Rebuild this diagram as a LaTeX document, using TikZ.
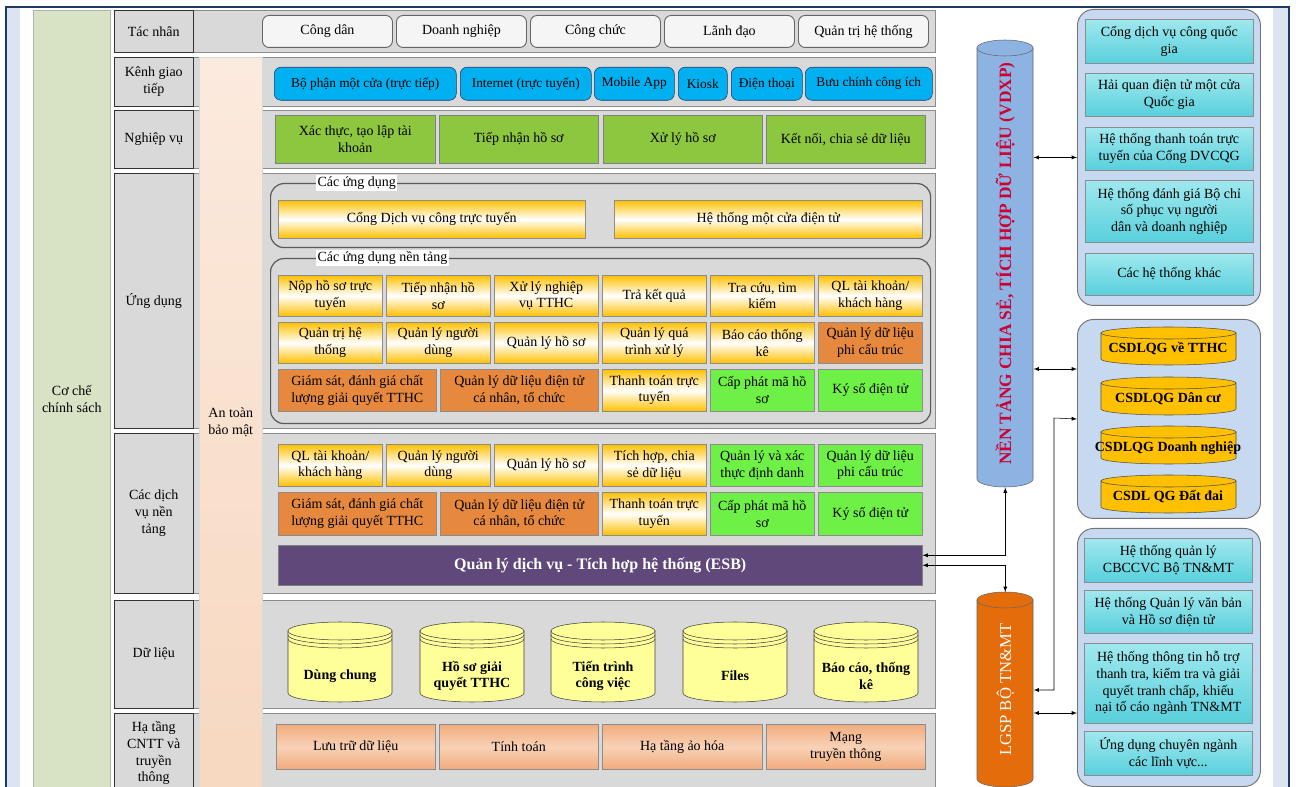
\documentclass[tikz,border=0pt]{standalone}
\usepackage{fontspec}
\setmainfont{Liberation Serif}

\newcommand{\donvi}{0.75pt}
\newcommand{\chu}{\fontsize{10.5}{12.5}\selectfont}

% hình trụ: trái, trên, phải, dưới, bán kính elip, màu nền, màu viền
\newcommand{\hinhtru}[7]{%
    \draw[fill=#6, draw=#7] (#1,#2+#5) -- (#1,#4-#5)
        arc[start angle=180, end angle=0, x radius={(#3-#1)/2}, y radius=#5]
        -- (#3,#2+#5) -- cycle;
    \draw[fill=#6, draw=#7] ({(#1+#3)/2},#2+#5) ellipse[x radius={(#3-#1)/2}, y radius=#5];
}
% vành phụ dưới nắp hình trụ
\newcommand{\vanh}[5]{%
    \draw[#5] (#1,#2) arc[start angle=180, end angle=0, x radius={(#3-#1)/2}, y radius=#4];
}

\definecolor{nenxanh}{RGB}{219,229,241}
\definecolor{vienxanh}{RGB}{31,56,100}
\definecolor{xamhang}{RGB}{217,217,217}
\definecolor{xanholiu}{RGB}{216,226,196}
\definecolor{daotren}{RGB}{251,234,222}
\definecolor{daoduoi}{RGB}{247,216,192}
\definecolor{xanhduong}{RGB}{0,176,240}
\definecolor{xanhla}{RGB}{141,198,63}
\definecolor{vang}{RGB}{255,192,0}
\definecolor{cam}{RGB}{230,137,62}
\definecolor{xanhnon}{RGB}{110,240,70}
\definecolor{tim}{RGB}{96,73,122}
\definecolor{vangnhat}{RGB}{255,255,153}
\definecolor{camnhat}{RGB}{242,172,124}
\definecolor{xanhnhom}{RGB}{198,217,241}
\definecolor{ngoctren}{RGB}{160,232,238}
\definecolor{ngocduoi}{RGB}{88,208,220}
\definecolor{xanhtru}{RGB}{141,179,226}
\definecolor{camdam}{RGB}{228,108,10}
\definecolor{dodam}{RGB}{204,0,51}

\tikzset{
    khoi/.style={anchor=north west, align=center, inner sep=1pt, font=\chu},
    kt/.style 2 args={minimum width=#1*\donvi, minimum height=#2*\donvi},
    hang/.style={khoi, fill=xamhang, draw=black!45},
    nhan/.style={khoi, fill=xamhang, draw=black!80},
    tacnhan/.style={khoi, fill=black!4, draw=black!60, rounded corners=5pt, line width=0.7pt},
    kenh/.style={khoi, fill=xanhduong, draw=vienxanh, rounded corners=5pt, font=\fontsize{10}{12}\selectfont},
    nghiepvu/.style={khoi, fill=xanhla, draw=black!50},
    vangbox/.style={khoi, draw=black!45, top color=vang, bottom color=vang, middle color=white},
    cambox/.style={khoi, draw=black!45, fill=cam},
    xanhbox/.style={khoi, draw=black!45, fill=xanhnon},
    hatang/.style={khoi, draw=black!45, top color=camnhat, bottom color=camnhat, middle color=camnhat!55},
    vienud/.style={khoi, draw=black!65, rounded corners=10pt, line width=0.9pt},
    tieude/.style={anchor=west, fill=white, inner sep=1pt, font=\chu},
    nhom/.style={khoi, fill=xanhnhom, draw=black!55, rounded corners=12pt, line width=0.7pt},
    ngocbox/.style={khoi, draw=black!45, top color=ngoctren, bottom color=ngocduoi},
    chutru/.style={align=center, font=\chu\bfseries},
}

\begin{document}
\begin{tikzpicture}[x=\donvi, y=-\donvi, >=latex]
    \useasboundingbox (0,0) rectangle (1296,787);
    \clip (0,0) rectangle (1296,787);

    % Khung nền
    \fill[white] (0,0) rectangle (1296,787);
    \fill[nenxanh] (6,7) rectangle (1289,790);
    \fill[white] (20,8) rectangle (1273,790);
    \draw[vienxanh, line width=1.5pt] (6,790) -- (6,7) -- (1289,7) -- (1289,790);

    % Cột cơ chế chính sách
    \node[khoi, kt={77}{777}, fill=xanholiu, draw=black!30] (coche) at (33,10) {Cơ chế\\chính sách};

    % Các hàng
    \node[hang, kt={821}{42}] (hang1) at (114,10) {};
    \node[hang, kt={821}{49}] (hang2) at (114,57) {};
    \node[hang, kt={821}{58}] (hang3) at (114,110) {};
    \node[hang, kt={821}{255}] (hang4) at (114,173) {};
    \node[hang, kt={821}{160}] (hang5) at (114,433) {};
    \node[hang, kt={821}{108}] (hang6) at (114,600) {};
    \node[hang, kt={821}{80}] (hang7) at (114,713) {};

    % Nhãn các hàng
    \node[nhan, kt={79}{42}] (nhan1) at (114,10) {Tác nhân};
    \node[nhan, kt={79}{49}] (nhan2) at (114,57) {Kênh giao\\tiếp};
    \node[nhan, kt={79}{58}] (nhan3) at (114,110) {Nghiệp vụ};
    \node[nhan, kt={79}{255}] (nhan4) at (114,173) {Ứng dụng};
    \node[nhan, kt={79}{160}] (nhan5) at (114,433) {Các dịch\\vụ nền\\tảng};
    \node[nhan, kt={79}{108}] (nhan6) at (114,600) {Dữ liệu};
    \node[nhan, kt={79}{80}] (nhan7) at (114,713) {Hạ tầng\\CNTT và\\truyền\\thông};

    % Cột an toàn bảo mật
    \node[khoi, kt={63}{730}, top color=daotren, bottom color=daoduoi, draw=black!15] (antoan) at (199,57) {An toàn\\bảo mật};

    % Tác nhân
    \node[tacnhan, kt={130}{32}] (tn1) at (262,15) {Công dân};
    \node[tacnhan, kt={130}{32}] (tn2) at (396,15) {Doanh nghiệp};
    \node[tacnhan, kt={130}{32}] (tn3) at (530,15) {Công chức};
    \node[tacnhan, kt={130}{32}] (tn4) at (664,15) {Lãnh đạo};
    \node[tacnhan, kt={130}{32}] (tn5) at (798,15) {Quản trị hệ thống};

    % Kênh giao tiếp
    \node[kenh, kt={182}{33}] (kn1) at (274,67) {Bộ phận một cửa (trực tiếp)};
    \node[kenh, kt={131}{33}] (kn2) at (460,67) {Internet (trực tuyến)};
    \node[kenh, kt={80}{33}] (kn3) at (594,67) {Mobile App};
    \node[kenh, kt={49}{33}] (kn4) at (678,67) {Kiosk};
    \node[kenh, kt={71}{33}] (kn5) at (731,67) {Điện thoại};
    \node[kenh, kt={127}{33}] (kn6) at (805,67) {Bưu chính công ích};

    % Nghiệp vụ
    \node[nghiepvu, kt={160}{48}] (nv1) at (275,115) {Xác thực, tạo lập tài\\khoản};
    \node[nghiepvu, kt={159}{48}] (nv2) at (439,115) {Tiếp nhận hồ sơ};
    \node[nghiepvu, kt={159}{48}] (nv3) at (603,115) {Xử lý hồ sơ};
    \node[nghiepvu, kt={159}{48}] (nv4) at (766,115) {Kết nối, chia sẻ dữ liệu};

    % Các ứng dụng
    \node[vienud, kt={660}{64}] (nhomud) at (270,183) {};
    \node[tieude] (tdud) at (316,183) {Các ứng dụng};
    \node[vangbox, kt={307}{38}] (ud1) at (278,200) {Cổng Dịch vụ công trực tuyến};
    \node[vangbox, kt={308}{38}] (ud2) at (614,200) {Hệ thống một cửa điện tử};

    % Các ứng dụng nền tảng
    \node[vienud, kt={660}{165}] (nhomnt) at (270,258) {};
    \node[tieude] (tdnt) at (316,258) {Các ứng dụng nền tảng};
    \node[vangbox, kt={104}{41}] (nt11) at (278,275) {Nộp hồ sơ trực\\tuyến};
    \node[vangbox, kt={104}{41}] (nt12) at (386,275) {Tiếp nhận hồ\\sơ};
    \node[vangbox, kt={104}{41}] (nt13) at (494,275) {Xử lý nghiệp\\vụ TTHC};
    \node[vangbox, kt={104}{41}] (nt14) at (602,275) {Trả kết quả};
    \node[vangbox, kt={104}{41}] (nt15) at (710,275) {Tra cứu, tìm\\kiếm};
    \node[vangbox, kt={104}{41}] (nt16) at (818,275) {QL tài khoản/\\khách hàng};
    \node[vangbox, kt={104}{41}] (nt21) at (278,322) {Quản trị hệ\\thống};
    \node[vangbox, kt={104}{41}] (nt22) at (386,322) {Quản lý người\\dùng};
    \node[vangbox, kt={104}{41}] (nt23) at (494,322) {Quản lý hồ sơ};
    \node[vangbox, kt={104}{41}] (nt24) at (602,322) {Quản lý quá\\trình xử lý};
    \node[vangbox, kt={104}{41}] (nt25) at (710,322) {Báo cáo thống\\kê};
    \node[cambox, kt={104}{41}] (nt26) at (818,322) {Quản lý dữ liệu\\phi cấu trúc};
    \node[cambox, kt={158}{42}] (nt31) at (278,369) {Giám sát, đánh giá chất\\lượng giải quyết TTHC};
    \node[cambox, kt={158}{42}] (nt32) at (440,369) {Quản lý dữ liệu điện tử\\cá nhân, tổ chức};
    \node[vangbox, kt={104}{42}] (nt33) at (602,369) {Thanh toán trực\\tuyến};
    \node[xanhbox, kt={104}{42}] (nt34) at (710,369) {Cấp phát mã hồ\\sơ};
    \node[xanhbox, kt={104}{42}] (nt35) at (818,369) {Ký số điện tử};

    % Các dịch vụ nền tảng
    \node[vangbox, kt={104}{42}] (dv11) at (278,444) {QL tài khoản/\\khách hàng};
    \node[vangbox, kt={104}{42}] (dv12) at (386,444) {Quản lý người\\dùng};
    \node[vangbox, kt={104}{42}] (dv13) at (494,444) {Quản lý hồ sơ};
    \node[vangbox, kt={104}{42}] (dv14) at (602,444) {Tích hợp, chia\\sẻ dữ liệu};
    \node[xanhbox, kt={104}{42}] (dv15) at (710,444) {Quản lý và xác\\thực định danh};
    \node[xanhbox, kt={104}{42}] (dv16) at (818,444) {Quản lý dữ liệu\\phi cấu trúc};
    \node[cambox, kt={158}{43}] (dv21) at (278,492) {Giám sát, đánh giá chất\\lượng giải quyết TTHC};
    \node[cambox, kt={158}{43}] (dv22) at (440,492) {Quản lý dữ liệu điện tử\\cá nhân, tổ chức};
    \node[vangbox, kt={104}{43}] (dv23) at (602,492) {Thanh toán trực\\tuyến};
    \node[xanhbox, kt={104}{43}] (dv24) at (710,492) {Cấp phát mã hồ\\sơ};
    \node[xanhbox, kt={104}{43}] (dv25) at (818,492) {Ký số điện tử};
    \node[khoi, kt={644}{40}, fill=tim, draw=black!50, text=white, font=\fontsize{12}{14}\selectfont\bfseries] (esb) at (278,545) {Quản lý dịch vụ - Tích hợp hệ thống (ESB)};

    % Dữ liệu
    \hinhtru{288}{622}{392}{702}{9}{vangnhat}{black!75}
    \vanh{288}{635}{392}{9}{black!75}
    \vanh{288}{639}{392}{9}{black!75}
    \node[chutru] (dl1) at (340,676) {Dùng chung};
    \hinhtru{420}{622}{524}{702}{9}{vangnhat}{black!75}
    \vanh{420}{635}{524}{9}{black!75}
    \vanh{420}{639}{524}{9}{black!75}
    \node[chutru] (dl2) at (472,676) {Hồ sơ giải\\quyết TTHC};
    \hinhtru{551}{622}{655}{702}{9}{vangnhat}{black!75}
    \vanh{551}{635}{655}{9}{black!75}
    \vanh{551}{639}{655}{9}{black!75}
    \node[chutru] (dl3) at (603,676) {Tiến trình\\công việc};
    \hinhtru{683}{622}{787}{702}{9}{vangnhat}{black!75}
    \vanh{683}{635}{787}{9}{black!75}
    \vanh{683}{639}{787}{9}{black!75}
    \node[chutru] (dl4) at (735,676) {Files};
    \hinhtru{814}{622}{918}{702}{9}{vangnhat}{black!75}
    \vanh{814}{635}{918}{9}{black!75}
    \vanh{814}{639}{918}{9}{black!75}
    \node[chutru] (dl5) at (866,676) {Báo cáo, thống\\kê};

    % Hạ tầng CNTT
    \node[hatang, kt={159}{45}] (ht1) at (276,724) {Lưu trữ dữ liệu};
    \node[hatang, kt={159}{45}] (ht2) at (439,724) {Tính toán};
    \node[hatang, kt={160}{45}] (ht3) at (602,724) {Hạ tầng ảo hóa};
    \node[hatang, kt={159}{45}] (ht4) at (766,724) {Mạng\\truyền thông};

    % Nền tảng VDXP và LGSP
    \hinhtru{977}{40}{1033}{487}{8}{xanhtru}{black!60}
    \node[khoi, kt={56}{447}] (vdxp) at (977,40) {};
    \node[rotate=90, text=dodam, font=\fontsize{13}{15}\selectfont\bfseries] (vdxpchu) at (vdxp.center) {NỀN TẢNG CHIA SẺ, TÍCH HỢP DỮ LIỆU (VDXP)};
    \hinhtru{977}{592}{1033}{787}{8}{camdam}{black!60}
    \node[khoi, kt={56}{195}] (lgsp) at (977,592) {};
    \node[rotate=90, text=white, font=\fontsize{12.5}{15}\selectfont] (lgspchu) at (lgsp.center) {LGSP BỘ TN\&MT};

    % Hệ thống quốc gia
    \node[nhom, kt={183}{296}] (nhom1) at (1077,9) {};
    \node[ngocbox, kt={168}{44}] (qg1) at (1085,19) {Cổng dịch vụ công quốc\\gia};
    \node[ngocbox, kt={168}{43}] (qg2) at (1085,73) {Hải quan điện tử một cửa\\Quốc gia};
    \node[ngocbox, kt={168}{43}] (qg3) at (1085,127) {Hệ thống thanh toán trực\\tuyến của Cổng DVCQG};
    \node[ngocbox, kt={168}{62}] (qg4) at (1085,180) {Hệ thống đánh giá Bộ chỉ\\số phục vụ người\\dân và doanh nghiệp};
    \node[ngocbox, kt={168}{42}] (qg5) at (1085,253) {Các hệ thống khác};

    % Cơ sở dữ liệu quốc gia
    \node[nhom, kt={183}{199}] (nhom2) at (1077,319) {};
    \hinhtru{1101}{327}{1236}{365}{6}{vang}{black!70}
    \node[chutru] (csdl1) at (1168,349) {CSDLQG về TTHC};
    \hinhtru{1101}{377}{1236}{415}{6}{vang}{black!70}
    \node[chutru] (csdl2) at (1168,399) {CSDLQG Dân cư};
    \hinhtru{1101}{426}{1236}{464}{6}{vang}{black!70}
    \node[chutru] (csdl3) at (1168,448) {CSDLQG Doanh nghiệp};
    \hinhtru{1101}{475}{1236}{513}{6}{vang}{black!70}
    \node[chutru] (csdl4) at (1168,497) {CSDL QG Đất đai};

    % Hệ thống của Bộ
    \node[nhom, kt={183}{258}] (nhom3) at (1077,528) {};
    \node[ngocbox, kt={168}{44}] (bo1) at (1084,538) {Hệ thống quản lý\\CBCCVC Bộ TN\&MT};
    \node[ngocbox, kt={168}{43}] (bo2) at (1084,590) {Hệ thống Quản lý văn bản\\và Hồ sơ điện tử};
    \node[ngocbox, kt={168}{80}] (bo3) at (1084,643) {Hệ thống thông tin hỗ trợ\\thanh tra, kiểm tra và giải\\quyết tranh chấp, khiếu\\nại tố cáo ngành TN\&MT};
    \node[ngocbox, kt={168}{44}] (bo4) at (1084,731) {Ứng dụng chuyên ngành\\các lĩnh vực...};

    % Kết nối
    \coordinate (re) at (1054,418);
    \draw[<->] (vdxp.east |- nhom1.west) -- (nhom1.west);
    \draw[<->] (vdxp.east |- 0,369) -- (nhom2.west |- 0,369);
    \draw[<->] (vdxp.south) |- ([yshift=7.5pt]esb.east);
    \draw[<->] (esb.east) -| (lgsp.north);
    \draw[<->] (lgsp.east |- 0,690) -| (re) -- (nhom2.west);
    \draw[<->] (lgsp.east |- 0,713) -- (nhom3.west |- 0,713);
\end{tikzpicture}
\end{document}
